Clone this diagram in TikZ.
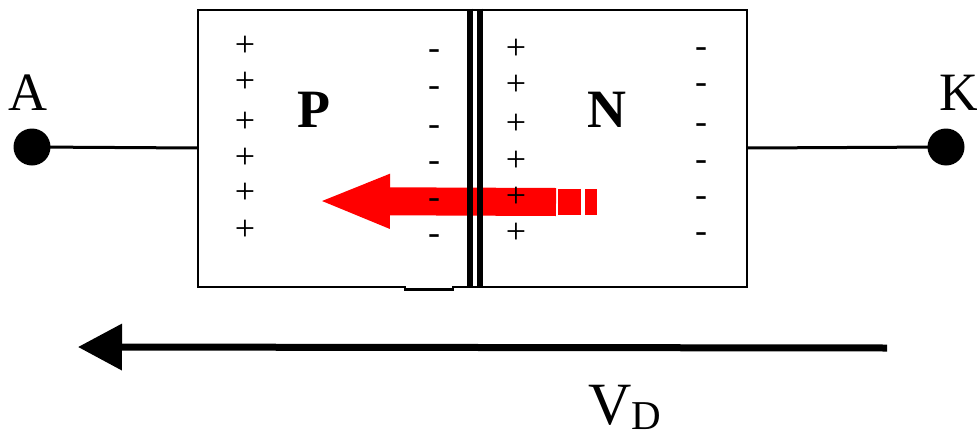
\documentclass[tikz,border=0pt]{standalone}
\usepackage{fontspec}
\setmainfont{Liberation Serif}
\usetikzlibrary{arrows.meta}
\begin{document}
\begin{tikzpicture}[x=1pt,y=-1pt,
  sign/.style={inner sep=0pt, font=\fontsize{36}{36}\selectfont},
  biglabel/.style={inner sep=0pt, anchor=base, font=\fontsize{54}{54}\selectfont},
  boldlabel/.style={inner sep=0pt, anchor=base, font=\fontsize{54}{54}\selectfont\bfseries},
  terminal/.style={circle, fill=black, inner sep=0pt, minimum size=37pt},
  wire/.style={line width=3pt},
  boxline/.style={line width=2.7pt},
  junction/.style={line width=6pt},
  flow/.style={red, line width=28pt, -{Triangle[length=72pt,width=49pt]}},
  dashpiece/.style={fill=red}
]
\useasboundingbox (0,0) rectangle (977,434);

% outer outline of the PN body
\draw[boxline] (198,10) -- (747,10) -- (747,287) -- (453,287) -- (453,289.5)
  -- (405,289.5) -- (405,287) -- (198,287) -- cycle;

% red current arrow (under the charges and junction)
\coordinate (fs) at (556,202);
\coordinate (fe) at (318,201);
\draw[flow] (fs) -- (fe);
\fill[dashpiece] (558,189) rectangle (581,215);
\fill[dashpiece] (585,189) rectangle (597,215);

% junction double line
\draw[junction] (470,8.6) -- (470,288.4);
\draw[junction] (480,8.6) -- (480,288.4);

% terminals
\node[terminal] (dotA) at (32,147) {};
\node[terminal] (dotK) at (946,147) {};
\coordinate (pL) at (198,148);
\coordinate (nR) at (747,148);
\draw[wire] (dotA.center) -- (pL);
\draw[wire] (nR) -- (dotK.center);

\node[biglabel] (labA) at (28,110) {A};
\node[biglabel, anchor=base west] (labK) at (939,110) {K};
\node[boldlabel] (labP) at (314,127) {P};
\node[boldlabel] (labN) at (607,127) {N};

% charges
\foreach \y [count=\i] in {46,82,122,158,193,230}
  \node[sign] (pp\i) at (245,\y) {+};
\foreach \y [count=\i] in {51,88,127,163,200,236}
  \node[sign] (pm\i) at (434,\y+3.5) {-};
\foreach \y [count=\i] in {49,85,124,161,197,233}
  \node[sign] (np\i) at (516,\y) {+};
\foreach \y [count=\i] in {49,85,125,162,198,234}
  \node[sign] (nm\i) at (701,\y+3.5) {-};

% voltage arrow
\coordinate (vs) at (887,348);
\coordinate (ve) at (78,347);
\draw[line width=7pt, -{Triangle[length=44pt,width=45pt]}] (vs) -- (ve);
\node[inner sep=0pt, anchor=base west, font=\fontsize{60}{60}\selectfont] (labV) at (588,424)
  {V\raisebox{-5pt}{\fontsize{41}{41}\selectfont D}};
\end{tikzpicture}
\end{document}
